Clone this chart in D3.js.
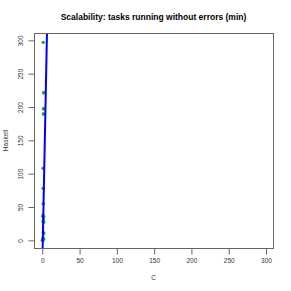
<!doctype html>
<head>
  <style>
    html, body { margin: 0; padding: 0; background: white; }
    svg { display: block; font-family: "Liberation Sans", Arial, sans-serif; }
    .tick text { fill: #333; font-size: 6.5px; }
  </style>
  <script src="https://d3js.org/d3.v7.min.js"></script>
</head>
<body>
  <svg id="chart" width="291" height="291"></svg>
  <script>
    // C time vs Haskell time per task (minutes)
    var cTimes       = [1.3, 2.3, 2.0, 1.5, 2.0, 1.5, 2.0, 1.0, 1.0, 1.2, 1.0, 0.5, 2.0, 1.5, 1.0, 2.0, 1.5, 2.0, 1.0, 0.5, 2.0, 0.0, 1.0];
    var haskellTimes = [297, 222, 221, 197, 198, 190, 189, 108, 78, 55, 38, 36, 35, 31, 28, 27, 12, 10, 4, 1, 2, 0, 0];
    var fitLine = { intercept: -39.3, slope: 55.6 };
    var ticks = [0, 50, 100, 150, 200, 250, 300];

    var svg = d3.select('#chart');
    var box = { left: 34, top: 33, right: 273, bottom: 248 };

    var x = d3.scaleLinear().domain([-11.1, 309.4]).range([box.left, box.right]);
    var y = d3.scaleLinear().domain([-11.5, 311]).range([box.bottom, box.top]);

    svg.append('clipPath').attr('id', 'clip')
      .append('rect')
        .attr('x', box.left).attr('y', box.top)
        .attr('width', box.right - box.left).attr('height', box.bottom - box.top);

    var plot = svg.append('g').attr('clip-path', 'url(#clip)');

    plot.selectAll('circle')
        .data(cTimes)
      .enter().append('circle')
        .attr('cx', function(d) { return x(d); })
        .attr('cy', function(d, i) { return y(haskellTimes[i]); })
        .attr('r', 1.7)
        .attr('fill', '#2ea02e');

    var yLo = -20, yHi = 320;
    plot.append('line')
        .attr('x1', x((yLo - fitLine.intercept) / fitLine.slope))
        .attr('y1', y(yLo))
        .attr('x2', x((yHi - fitLine.intercept) / fitLine.slope))
        .attr('y2', y(yHi))
        .attr('stroke', '#0000ff')
        .attr('stroke-width', 2);

    svg.append('rect')
        .attr('x', box.left + 0.5).attr('y', box.top + 0.5)
        .attr('width', box.right - box.left).attr('height', box.bottom - box.top)
        .attr('fill', 'none')
        .attr('stroke', '#666');

    var xAxis = svg.append('g')
        .attr('transform', 'translate(0,' + (box.bottom + 0.5) + ')')
        .call(d3.axisBottom(x).tickValues(ticks).tickSize(6).tickPadding(4));
    xAxis.select('.domain').remove();
    xAxis.selectAll('.tick line').attr('stroke', '#666');

    var yAxis = svg.append('g')
        .attr('transform', 'translate(' + (box.left + 0.5) + ',0)')
        .call(d3.axisLeft(y).tickValues(ticks).tickSize(6).tickPadding(4));
    yAxis.select('.domain').remove();
    yAxis.selectAll('.tick line').attr('stroke', '#666');
    yAxis.selectAll('.tick text')
        .attr('transform', 'rotate(-90)')
        .attr('x', 0).attr('y', -12)
        .attr('dy', 0)
        .style('text-anchor', 'middle');

    svg.append('text')
        .attr('x', (box.left + box.right) / 2)
        .attr('y', 20)
        .attr('text-anchor', 'middle')
        .style('font-size', '8.5px')
        .style('font-weight', 'bold')
        .text('Scalability: tasks running without errors (min)');

    svg.append('text')
        .attr('x', (box.left + box.right) / 2)
        .attr('y', 280)
        .attr('text-anchor', 'middle')
        .style('font-size', '6.5px')
        .attr('fill', '#333')
        .text('C');

    svg.append('text')
        .attr('transform', 'translate(8,' + ((box.top + box.bottom) / 2) + ') rotate(-90)')
        .attr('text-anchor', 'middle')
        .style('font-size', '6.5px')
        .attr('fill', '#333')
        .text('Haskell');
  </script>
</body>
